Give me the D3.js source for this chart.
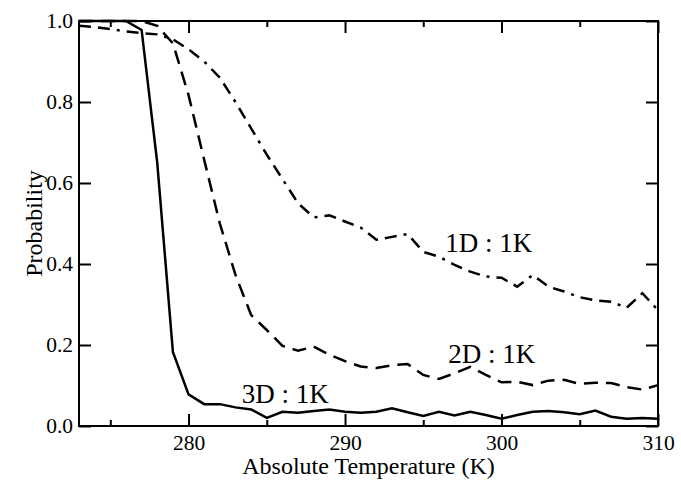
<!DOCTYPE html>
<html>
<head>
<meta charset="utf-8">
<script src="https://cdn.jsdelivr.net/npm/d3@7"></script>
<style>
  body { margin: 0; background: #fff; }
  svg text { font-family: "Liberation Serif", "Times New Roman", serif; fill: #000; }
</style>
</head>
<body>
<div id="chart"></div>
<script>
const temps = d3.range(273, 311);

const prob1D = [0.988, 0.985, 0.980, 0.974, 0.970, 0.967, 0.955, 0.930, 0.900, 0.860,
                0.800, 0.735, 0.670, 0.610, 0.550, 0.515, 0.520, 0.505, 0.490, 0.460,
                0.467, 0.474, 0.430, 0.418, 0.398, 0.381, 0.369, 0.366, 0.344, 0.373,
                0.344, 0.332, 0.318, 0.310, 0.307, 0.292, 0.328, 0.286];

const prob2D = [1.0, 1.0, 1.0, 1.0, 1.0, 0.988, 0.945, 0.817, 0.657, 0.500,
                0.373, 0.274, 0.237, 0.198, 0.186, 0.196, 0.176, 0.160, 0.147, 0.143,
                0.150, 0.153, 0.126, 0.116, 0.130, 0.146, 0.126, 0.108, 0.109, 0.101,
                0.112, 0.114, 0.104, 0.107, 0.106, 0.096, 0.090, 0.101];

const prob3D = [1.0, 1.0, 1.0, 1.0, 0.978, 0.650, 0.183, 0.078, 0.054, 0.054,
                0.046, 0.041, 0.020, 0.035, 0.033, 0.037, 0.041, 0.035, 0.033, 0.035,
                0.044, 0.034, 0.025, 0.035, 0.026, 0.035, 0.027, 0.018, 0.027, 0.035,
                0.037, 0.034, 0.029, 0.038, 0.023, 0.018, 0.020, 0.018];

const xTicks = [280, 290, 300, 310];
const xMinorTicks = [275, 285, 295, 305];
const yTicks = [0, 0.2, 0.4, 0.6, 0.8, 1.0];

const seriesLabels = [
    { name: "1D : 1K", x: 296.4, y: 0.43 },
    { name: "2D : 1K", x: 296.6, y: 0.155 },
    { name: "3D : 1K", x: 283.4, y: 0.0575 }
];

const margin = { top: 21, right: 23, bottom: 61, left: 79 },
    width = 681 - margin.left - margin.right,
    height = 487 - margin.top - margin.bottom;

const svg = d3.select("#chart")
    .append("svg")
    .attr("width", 681)
    .attr("height", 487)
    .style("display", "block")
    .append("g")
    .attr("transform", `translate(${margin.left},${margin.top})`);

const x = d3.scaleLinear().domain([273, 310]).range([0, width]);
const y = d3.scaleLinear().domain([0, 1]).range([height, 0]);

const line = d3.line()
    .x((d, i) => x(temps[i]))
    .y(d => y(d));

// curves
svg.append("path")
    .datum(prob1D)
    .attr("d", line)
    .attr("fill", "none")
    .attr("stroke", "#000")
    .attr("stroke-width", 2.5)
    .attr("stroke-dasharray", "12,7,12,7,3,7");

svg.append("path")
    .datum(prob2D)
    .attr("d", line)
    .attr("fill", "none")
    .attr("stroke", "#000")
    .attr("stroke-width", 2.5)
    .attr("stroke-dasharray", "14,8");

svg.append("path")
    .datum(prob3D)
    .attr("d", line)
    .attr("fill", "none")
    .attr("stroke", "#000")
    .attr("stroke-width", 2.5);

// frame
svg.append("rect")
    .attr("width", width)
    .attr("height", height)
    .attr("fill", "none")
    .attr("stroke", "#000")
    .attr("stroke-width", 2);

// inward ticks, mirrored on all four sides
const tickFmt = d3.format(".1f");

svg.append("g")
    .attr("transform", `translate(0,${height})`)
    .call(d3.axisBottom(x).tickValues(xTicks).tickSize(-12).tickPadding(9).tickFormat(d3.format("d")))
    .call(g => g.select(".domain").remove());

svg.append("g")
    .attr("transform", `translate(0,${height})`)
    .call(d3.axisBottom(x).tickValues(xMinorTicks).tickSize(-6).tickFormat(""))
    .call(g => g.select(".domain").remove());

svg.append("g")
    .call(d3.axisTop(x).tickValues(xTicks).tickSize(-12).tickFormat(""))
    .call(g => g.select(".domain").remove());

svg.append("g")
    .call(d3.axisTop(x).tickValues(xMinorTicks).tickSize(-6).tickFormat(""))
    .call(g => g.select(".domain").remove());

svg.append("g")
    .call(d3.axisLeft(y).tickValues(yTicks).tickSize(-12).tickPadding(6).tickFormat(tickFmt))
    .call(g => g.select(".domain").remove());

svg.append("g")
    .attr("transform", `translate(${width},0)`)
    .call(d3.axisRight(y).tickValues(yTicks).tickSize(-12).tickFormat(""))
    .call(g => g.select(".domain").remove());

svg.selectAll(".tick line").attr("stroke", "#000").attr("stroke-width", 2);
svg.selectAll(".tick text")
    .style("font-size", "21.5px")
    .style("font-family", "'Liberation Serif', serif");

// axis titles
svg.append("text")
    .attr("x", width / 2)
    .attr("y", height + 48)
    .attr("text-anchor", "middle")
    .style("font-size", "24px")
    .text("Absolute Temperature (K)");

svg.append("text")
    .attr("transform", "rotate(-90)")
    .attr("x", -height / 2)
    .attr("y", -37)
    .attr("text-anchor", "middle")
    .style("font-size", "24px")
    .text("Probability");

// series labels
svg.selectAll(".series-label")
    .data(seriesLabels)
    .join("text")
    .attr("class", "series-label")
    .attr("x", d => x(d.x))
    .attr("y", d => y(d.y))
    .style("font-size", "27px")
    .text(d => d.name);
</script>
</body>
</html>
